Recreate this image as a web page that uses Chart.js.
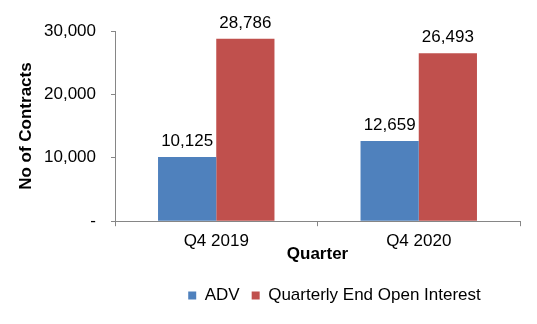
<!DOCTYPE html>
<html>
<head>
<meta charset="utf-8">
<script src="https://cdn.jsdelivr.net/npm/chart.js@4/dist/chart.umd.min.js"></script>
<style>
  html, body { margin:0; padding:0; background:#fff; }
  #wrap { width:537px; height:324px; }
</style>
</head>
<body>
<div id="wrap"><canvas id="chart" width="537" height="324"></canvas></div>
<script>
const categories = ['Q4 2019', 'Q4 2020'];
const advValues = [10125, 12659];
const openInterestValues = [28786, 26493];
const seriesNames = ['ADV', 'Quarterly End Open Interest'];
const yTicks = [0, 10000, 20000, 30000];

const FONT = '"Liberation Sans", Arial, sans-serif';
const FS = 17;
const AXIS_GREY = '#868686';

const fmt = (v) => v === 0 ? '-' : v.toLocaleString('en-US');

// value labels over each bar
const barLabels = {
  id: 'barLabels',
  afterDatasetsDraw(chart) {
    const ctx = chart.ctx;
    ctx.save();
    ctx.font = FS + 'px ' + FONT;
    ctx.fillStyle = '#000';
    ctx.textAlign = 'center';
    ctx.textBaseline = 'alphabetic';
    chart.data.datasets.forEach((ds, i) => {
      chart.getDatasetMeta(i).data.forEach((bar, j) => {
        ctx.fillText(fmt(ds.data[j]), bar.x, bar.y - 11);
      });
    });
    ctx.restore();
  }
};

// nudge the legend a little right, like the original
const legendShift = {
  id: 'legendShift',
  afterLayout(chart) {
    if (!chart.legend) return;
    chart.legend.left += 17;
    chart.legend.right += 17;
  }
};

new Chart(document.getElementById('chart'), {
  type: 'bar',
  data: {
    labels: categories,
    datasets: [
      { label: seriesNames[0], data: advValues, backgroundColor: '#4F81BD',
        barPercentage: 1, categoryPercentage: 0.575 },
      { label: seriesNames[1], data: openInterestValues, backgroundColor: '#C0504D',
        barPercentage: 1, categoryPercentage: 0.575 }
    ]
  },
  options: {
    responsive: false,
    animation: false,
    layout: { padding: { top: 31, right: 17, bottom: 10, left: 16 } },
    plugins: {
      legend: {
        position: 'bottom',
        fullSize: false,
        labels: {
          boxWidth: 8, boxHeight: 8, padding: 12,
          color: '#000', font: { family: FONT, size: FS }
        }
      },
      tooltip: { enabled: false }
    },
    scales: {
      x: {
        grid: { display: true, drawOnChartArea: false, tickLength: 5, color: AXIS_GREY, offset: true },
        border: { color: AXIS_GREY },
        ticks: { color: '#000', font: { family: FONT, size: FS }, padding: 5 },
        title: { display: true, text: 'Quarter', color: '#000',
                 font: { family: FONT, size: FS, weight: 'bold' }, padding: { top: -12, bottom: 10 } }
      },
      y: {
        min: 0, max: 30000,
        afterBuildTicks: (s) => { s.ticks = yTicks.map(v => ({ value: v })); },
        grid: { display: true, drawOnChartArea: false, tickLength: 4, color: AXIS_GREY },
        border: { color: AXIS_GREY },
        ticks: { color: '#000', font: { family: FONT, size: FS }, padding: 15, callback: (v) => fmt(v) },
        title: { display: true, text: 'No of Contracts', color: '#000',
                 font: { family: FONT, size: FS, weight: 'bold' }, padding: { top: 0, bottom: 0 } },
        afterFit: (s) => { s.width = 99; }
      }
    }
  },
  plugins: [barLabels, legendShift]
});
</script>
</body>
</html>
